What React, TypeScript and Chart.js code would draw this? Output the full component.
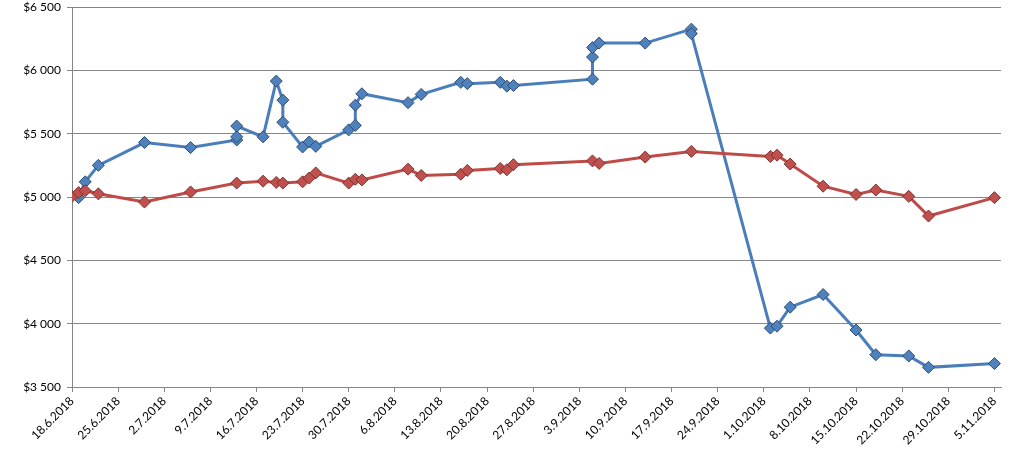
import { useEffect, useRef } from "react";
import Chart from "chart.js/auto";

// days counted from 18.6.2018
const START_UTC = Date.UTC(2018, 5, 18);

const blueDays = [1, 2, 4, 11, 18, 25, 25, 25, 29, 31, 32, 32, 35, 36, 37, 42, 43, 43, 44, 51, 53, 59, 60, 65, 66, 67, 79, 79, 79, 80, 87, 94, 94, 106, 107, 109, 114, 119, 122, 127, 130, 140];
const blueValues = [4995, 5120, 5250, 5430, 5390, 5450, 5475, 5560, 5475, 5915, 5765, 5590, 5395, 5435, 5400, 5530, 5565, 5725, 5815, 5745, 5810, 5905, 5895, 5905, 5875, 5880, 5930, 6105, 6180, 6215, 6215, 6325, 6290, 3965, 3980, 4130, 4230, 3950, 3755, 3745, 3655, 3685];

const redDays = [0, 1, 2, 4, 11, 18, 25, 29, 31, 32, 35, 36, 37, 42, 43, 44, 51, 53, 59, 60, 65, 66, 67, 79, 80, 87, 94, 106, 107, 109, 114, 119, 122, 127, 130, 140];
const redValues = [5005, 5035, 5050, 5025, 4960, 5040, 5110, 5125, 5115, 5110, 5120, 5150, 5190, 5110, 5140, 5135, 5220, 5170, 5180, 5210, 5225, 5215, 5255, 5285, 5265, 5315, 5360, 5320, 5330, 5260, 5085, 5020, 5055, 5005, 4850, 4995];

const xMin = 0;
const xMax = 141;
const xStep = 7;
const yMin = 3500;
const yMax = 6500;
const yStep = 500;

const formatDay = (v: number) => {
  const d = new Date(START_UTC + v * 86400000);
  return `${d.getUTCDate()}.${d.getUTCMonth() + 1}.${d.getUTCFullYear()}`;
};

const formatMoney = (v: number) => {
  const th = Math.floor(v / 1000);
  const rest = String(v % 1000).padStart(3, "0");
  return `$${th} ${rest}`;
};

const toPoints = (days: number[], values: number[]) =>
  days.map((d, i) => ({ x: d, y: values[i] }));

const App = () => {
  const canvasRef = useRef<HTMLCanvasElement>(null);

  useEffect(() => {
    document.body.style.margin = "0";
    let chart: Chart<"line"> | null = null;
    const ctx = canvasRef.current?.getContext("2d");
    if (ctx) {
      chart = new Chart(ctx, {
        type: "line",
        data: {
          datasets: [
            {
              label: "Red",
              data: toPoints(redDays, redValues),
              borderColor: "#BE4B48",
              borderWidth: 3,
              pointStyle: "rectRot",
              pointRadius: 6,
              pointBackgroundColor: "#C0504D",
              pointBorderColor: "#7E3230",
              pointBorderWidth: 1,
              tension: 0,
              order: 0,
            },
            {
              label: "Blue",
              data: toPoints(blueDays, blueValues),
              borderColor: "#4A7EBB",
              borderWidth: 3,
              pointStyle: "rectRot",
              pointRadius: 6,
              pointBackgroundColor: "#4F81BD",
              pointBorderColor: "#2C4D75",
              pointBorderWidth: 1,
              tension: 0,
              order: 1,
            },
          ],
        },
        options: {
          animation: false,
          responsive: false,
          layout: { padding: { left: 0, right: 20, top: 7, bottom: 0 } },
          plugins: {
            legend: { display: false },
            tooltip: { enabled: false },
          },
          scales: {
            x: {
              type: "linear",
              min: xMin,
              max: xMax,
              afterFit: (scale) => {
                scale.height = 67;
              },
              ticks: {
                stepSize: xStep,
                includeBounds: false,
                autoSkip: false,
                maxRotation: 45,
                minRotation: 45,
                color: "#000000",
                font: { family: "Lato", size: 12 },
                padding: 2,
                callback: (v) => formatDay(Number(v)),
              },
              grid: {
                drawOnChartArea: false,
                color: "#868686",
                tickLength: 5,
              },
              border: { display: true, color: "#868686", width: 1 },
            },
            y: {
              min: yMin,
              max: yMax,
              afterFit: (scale) => {
                scale.width = 72;
                scale.paddingTop = 0;
                scale.paddingBottom = 0;
              },
              ticks: {
                stepSize: yStep,
                color: "#000000",
                font: { family: "Lato", size: 12 },
                padding: 6,
                callback: (v) => formatMoney(Number(v)),
              },
              grid: {
                color: "#868686",
                tickLength: 5,
              },
              border: { display: true, color: "#868686", width: 1 },
            },
          },
        },
      });
    }
    return () => {
      if (chart) chart.destroy();
    };
  }, []);

  return (
    <div style={{ width: 1021, height: 454, background: "#ffffff" }}>
      <canvas ref={canvasRef} width={1021} height={454} />
    </div>
  );
};

export default App;
